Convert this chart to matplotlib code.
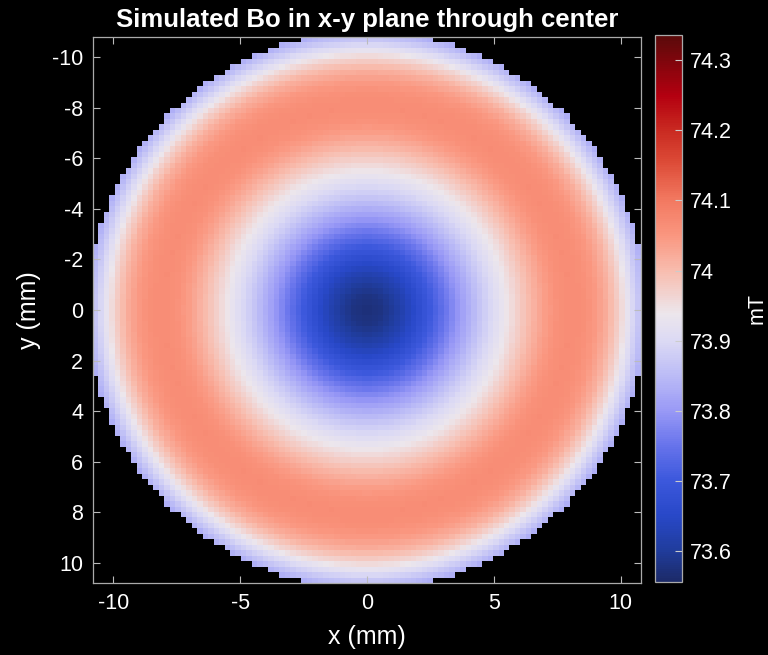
import numpy as np
import matplotlib
matplotlib.use("Agg")
import matplotlib.pyplot as plt
from matplotlib.colors import LinearSegmentedColormap
from matplotlib.ticker import FormatStrFormatter

plt.rcParams['font.family'] = ['Liberation Sans', 'DejaVu Sans']

# Radial profile of the field (mm, mT)
radius_mm = [0.0, 0.5, 1.0, 1.5, 2.0, 2.5, 3.0, 3.5, 4.0, 4.5, 5.0, 5.5, 6.0,
             6.5, 7.0, 7.5, 8.0, 8.5, 9.0, 9.5, 10.0, 10.5, 11.0]
field_mT = [73.570, 73.578, 73.598, 73.628, 73.663, 73.703, 73.745, 73.790,
            73.830, 73.870, 73.906, 73.940, 73.975, 74.010, 74.040, 74.060,
            74.068, 74.064, 74.048, 74.016, 73.962, 73.893, 73.830]
mask_radius_mm = 11.0
grid_half_width_mm = 10.8
grid_cells = 100

xticks = [-10, -5, 0, 5, 10]
yticks = [-10, -8, -6, -4, -2, 0, 2, 4, 6, 8, 10]
cbar_ticks = [73.6, 73.7, 73.8, 73.9, 74.0, 74.1, 74.2, 74.3]
clim = (73.556, 74.336)

cmap_colors = [
    (0.000, "#1c2a68"),
    (0.056, "#203c9c"),
    (0.12, "#2848c8"),
    (0.185, "#3c58dc"),
    (0.25, "#6874ec"),
    (0.314, "#9a9af6"),
    (0.378, "#bcbcf6"),
    (0.442, "#dcdaf4"),
    (0.49, "#ece6ec"),
    (0.57, "#f8bcae"),
    (0.635, "#fa967f"),
    (0.70, "#f27860"),
    (0.77, "#dc4a36"),
    (0.83, "#c82820"),
    (0.89, "#b40010"),
    (1.000, "#5a0a0a"),
]
cmap = LinearSegmentedColormap.from_list("bwr_custom", cmap_colors)

edges = np.linspace(-grid_half_width_mm, grid_half_width_mm, grid_cells + 1)
centers = 0.5 * (edges[:-1] + edges[1:])
X, Y = np.meshgrid(centers, centers)
R = np.hypot(X, Y)
B = np.interp(R, radius_mm, field_mT)
B = np.where(R <= mask_radius_mm, B, np.nan)

fig = plt.figure(figsize=(7.68, 6.55), dpi=100, facecolor="black")
ax = fig.add_axes([0.1211, 0.1099, 0.7135, 0.8336])
ax.set_facecolor("black")
mesh = ax.pcolormesh(edges, edges, B, cmap=cmap, vmin=clim[0], vmax=clim[1],
                     shading="flat")
ax.set_xlim(-grid_half_width_mm, grid_half_width_mm)
ax.set_ylim(grid_half_width_mm, -grid_half_width_mm)
ax.set_xticks(xticks)
ax.set_yticks(yticks)
ax.set_xticklabels([str(t) for t in xticks])
ax.set_yticklabels([str(t) for t in yticks])
ax.tick_params(direction="in", length=5, width=0.8, colors="#bbbbbb",
               labelcolor="white", labelsize=15.5, top=True, right=True, pad=7)
for s in ax.spines.values():
    s.set_color("#aaaaaa")
    s.set_linewidth(0.9)
ax.set_xlabel("x (mm)", color="white", fontsize=18, labelpad=8)
ax.set_ylabel("y (mm)", color="white", fontsize=18, labelpad=8)
ax.set_title("Simulated Bo in x-y plane through center", color="white",
             fontsize=18.5, fontweight="bold", pad=7)

cax = fig.add_axes([0.853, 0.1115, 0.035, 0.8351])
cb = fig.colorbar(mesh, cax=cax, ticks=cbar_ticks)
cb.outline.set_edgecolor("#aaaaaa")
cb.outline.set_linewidth(0.9)
cax.yaxis.set_major_formatter(FormatStrFormatter("%g"))
cax.tick_params(direction="in", length=5, width=0.8, colors="#cccccc",
                labelcolor="white", labelsize=15.5, pad=6)
cb.set_label("mT", color="white", fontsize=15.5, labelpad=10)

fig.savefig("out.png", dpi=100, facecolor="black")
